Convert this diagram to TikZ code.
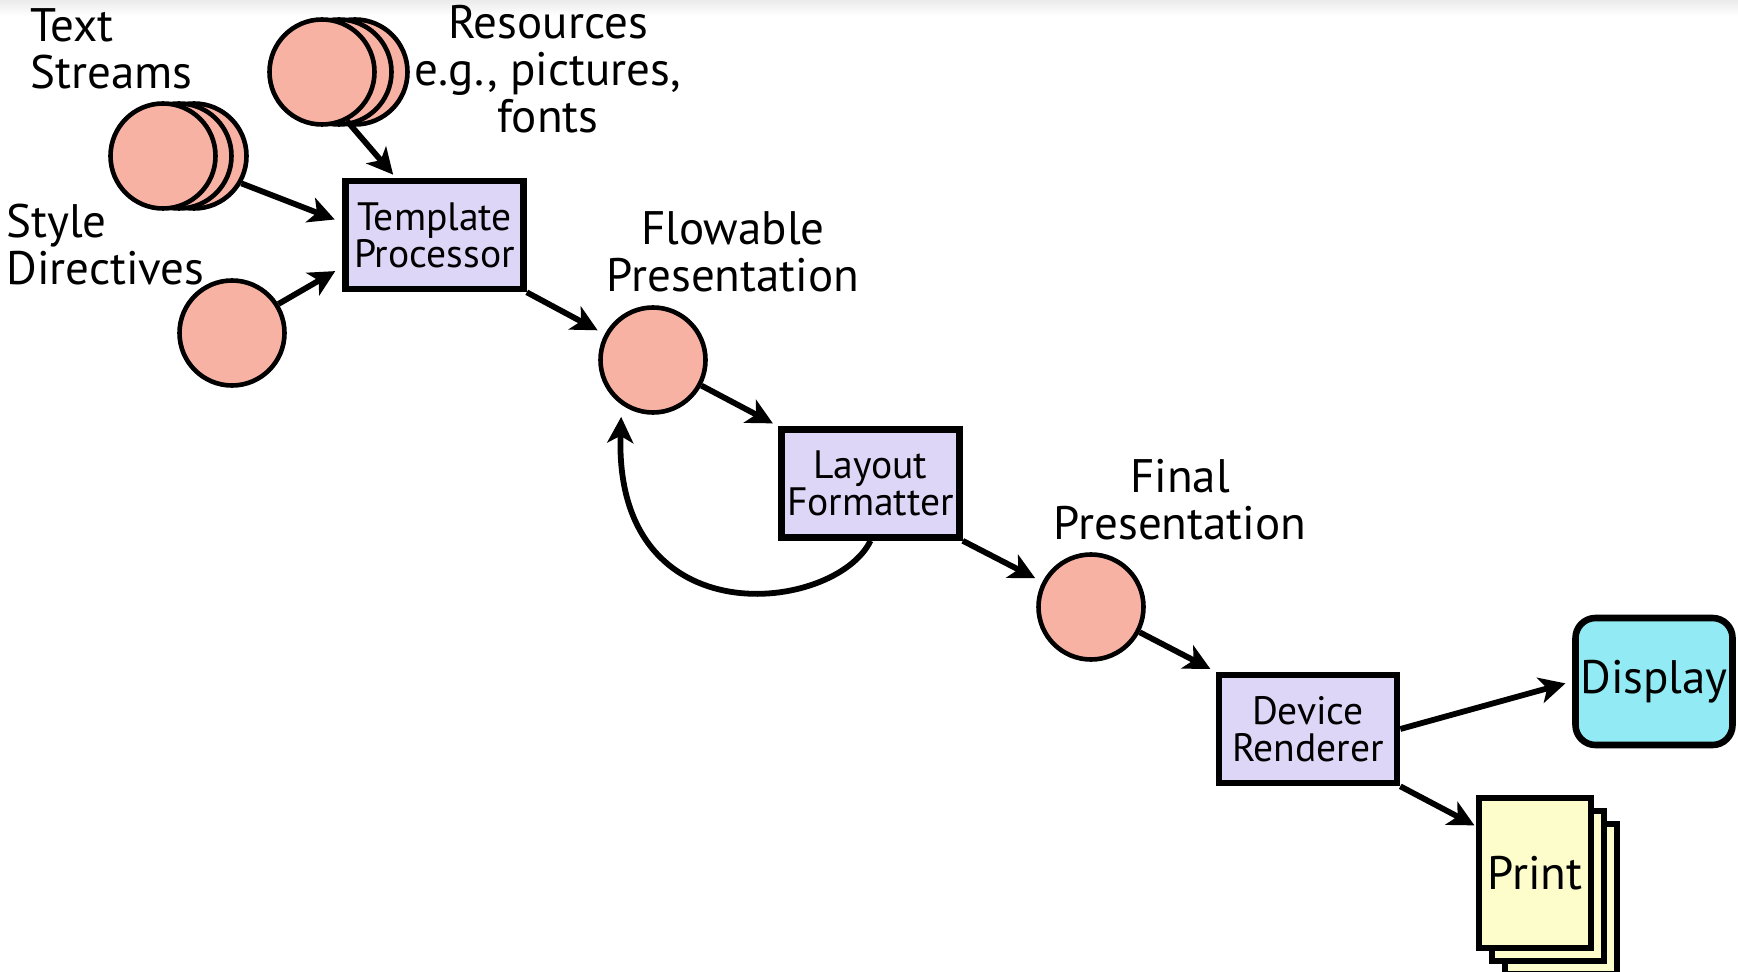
\documentclass[tikz,border=0pt]{standalone}
\usepackage{fontspec}
\setmainfont{PT Sans}
\usetikzlibrary{arrows.meta,calc}
\definecolor{salmon}{HTML}{F7B2A4}
\definecolor{lav}{HTML}{DED6F6}
\definecolor{cyanbox}{HTML}{92EBF4}
\definecolor{paper}{HTML}{FDFDCB}
\tikzset{
  lbl/.style={font=\fontsize{23.5}{23.5}\selectfont, inner sep=0pt, align=center},
  proc/.style={draw, line width=3.3pt, fill=lav, minimum width=89pt, minimum height=54pt,
    inner sep=1pt, font=\fontsize{19.8}{18.5}\selectfont, align=center},
  disk/.style={circle, draw, line width=2.3pt, fill=salmon, minimum size=52.5pt, inner sep=0pt},
  page/.style={draw, line width=2.8pt, fill=paper, minimum width=56pt, minimum height=75pt,
    inner sep=0pt, font=\fontsize{23.5}{23.5}\selectfont},
  screen/.style={draw, line width=3.3pt, fill=cyanbox, rounded corners=10pt, minimum width=78.5pt,
    minimum height=63.5pt, inner sep=0pt, font=\fontsize{23.5}{23.5}\selectfont},
  arr/.style={line width=2.9pt, -{Stealth[length=13pt,width=13pt,inset=3.5pt]}}
}
\begin{document}
\begin{tikzpicture}[x=0.5pt,y=-0.5pt]
\useasboundingbox (0,0) rectangle (1738,972);
\shade[top color=black!8, bottom color=white] (0,0) rectangle (1738,16);

% stacked disks
\node[disk] (ts3) at (194,156) {};
\node[disk] (ts2) at (179,156) {};
\node[disk] (ts1) at (163,156) {};
\node[disk] (rs3) at (355,72) {};
\node[disk] (rs2) at (339,72) {};
\node[disk] (rs1) at (322,72) {};
\node[disk] (sd) at (232,333) {};
\node[disk] (fl) at (653,360) {};
\node[disk] (fin) at (1091,607) {};

% processes
\node[proc] (tp) at (434.5,235) {Template\\Processor};
\node[proc] (lf) at (870.5,483.5) {Layout\\Formatter};
\node[proc] (dr) at (1308,729) {Device\\Renderer};

% outputs
\node[screen] (disp) at (1654,681.5) {Display};
\node[page] (pr3) at (1561,899) {};
\node[page] (pr2) at (1548,886) {};
\node[page] (pr1) at (1535,873) {Print};

% labels
\node[lbl, align=left, anchor=base west] (tsl) at (30,89) {Text\\Streams};
\node[lbl, anchor=base] (rsl) at (548,133) {Resources\\e.g., pictures,\\fonts};
\node[lbl, align=left, anchor=base west] (sdl) at (6,285) {Style\\Directives};
\node[lbl, anchor=base] (fll) at (733,292) {Flowable\\Presentation};
\node[lbl, anchor=base] (finl) at (1180,539) {Final\\Presentation};

% connectors
\draw[arr, shorten >=4pt] (ts3.-30) -- ($(tp.north west)!0.39!(tp.south west)$);
\draw[arr, shorten >=2pt] (rs1.-63) -- ($(tp.north west)!0.29!(tp.north east)$);
\draw[arr, shorten >=4pt] (sd.32) -- ($(tp.north west)!0.78!(tp.south west)$);
\draw[arr, shorten >=4pt] (tp.south east) -- (fl);
\draw[arr, shorten >=3pt] (fl) -- (lf.north west);
\draw[arr, shorten >=4pt] (lf.south east) -- (fin);
\draw[arr, shorten >=3pt] (fin) -- (dr.north west);
\draw[arr, shorten >=3.5pt] (dr.east) -- (disp.west);
\draw[arr, shorten >=1pt] (dr.south east) -- ($(pr1.north west)!0.2!(pr1.south west)$);
\draw[arr, shorten >=6pt] (lf.south) .. controls +(-35,72) and +(-8,235) .. (fl.235);
\end{tikzpicture}
\end{document}
